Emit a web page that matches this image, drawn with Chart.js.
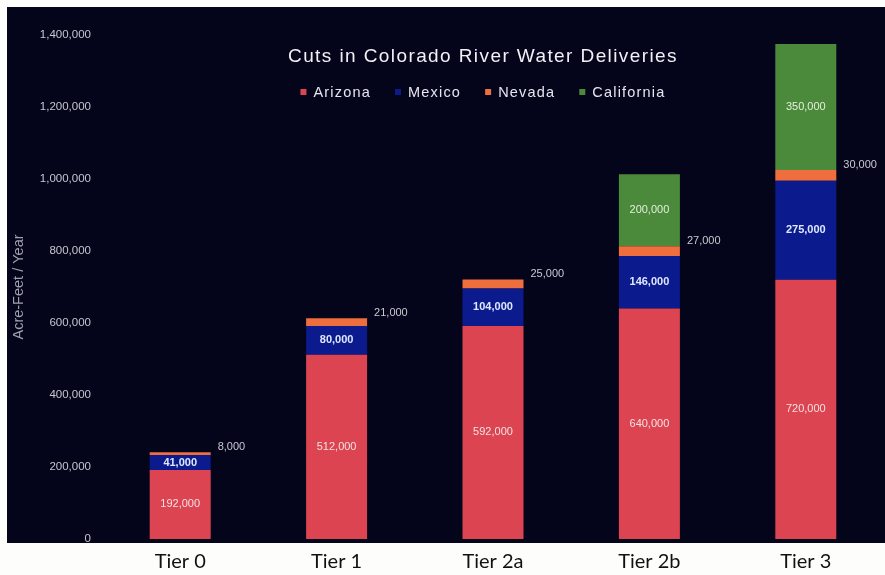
<!DOCTYPE html>
<html>
<head>
<meta charset="utf-8">
<script src="https://cdn.jsdelivr.net/npm/chart.js@4/dist/chart.umd.min.js"></script>
<style>
  html, body { margin: 0; padding: 0; background: #ffffff; }
  #wrap { width: 885px; height: 575px; }
</style>
</head>
<body>
<div id="wrap"><canvas id="waterChart"></canvas></div>
<script>
document.addEventListener('DOMContentLoaded', function() {

    // values (acre-feet / year)
    const tiers = ['Tier 0', 'Tier 1', 'Tier 2a', 'Tier 2b', 'Tier 3'];
    const arizona = [192000, 512000, 592000, 640000, 720000];
    const mexico = [41000, 80000, 104000, 146000, 275000];
    const nevada = [8000, 21000, 25000, 27000, 30000];
    const california = [null, null, null, 200000, 350000];
    const yTicks = [0, 200000, 400000, 600000, 800000, 1000000, 1200000, 1400000];

    const chartTitle = 'Cuts in Colorado River Water Deliveries';

    const fmt = v => v.toLocaleString('en-US');

    // dark panel behind the plot, white strip below for the tier names
    const panelBg = {
        id: 'panelBg',
        beforeDraw(chart) {
            const c = chart.ctx;
            c.save();
            c.fillStyle = '#fdfdfb';
            c.fillRect(0, 0, chart.width, chart.height);
            c.fillStyle = '#04051a';
            c.fillRect(7, 7, chart.width - 7, 536);
            c.restore();
        }
    };

    // title + legend are drawn on top of the plot area, like the original
    const titleLegend = {
        id: 'titleLegend',
        afterDraw(chart) {
            const c = chart.ctx;
            const cx = 483;
            c.save();
            c.textBaseline = 'middle';
            c.fillStyle = '#f0f0f5';
            c.font = '19px "Liberation Sans", Arial, sans-serif';
            c.letterSpacing = '0px';
            const w0 = c.measureText(chartTitle).width;
            const sp = Math.max(0, (390 - w0) / chartTitle.length);
            c.letterSpacing = sp + 'px';
            c.textAlign = 'center';
            c.fillText(chartTitle, cx, 57);

            // legend row
            c.font = '14.5px "Liberation Sans", Arial, sans-serif';
            c.letterSpacing = '1.2px';
            c.textAlign = 'left';
            const items = chart.data.datasets.map(ds => ({ label: ds.label, color: ds.backgroundColor }));
            const box = 6, gapBox = 7, gapItem = 24;
            let total = 0;
            items.forEach((it, i) => {
                it.w = c.measureText(it.label).width;
                total += box + gapBox + it.w + (i < items.length - 1 ? gapItem : 0);
            });
            let x = cx - total / 2;
            const y = 92;
            items.forEach(it => {
                c.fillStyle = it.color;
                c.fillRect(x, y - box / 2, box, box);
                x += box + gapBox;
                c.fillStyle = '#e6e6ee';
                c.fillText(it.label, x, y + 1);
                x += it.w + gapItem;
            });
            c.restore();
        }
    };

    // value labels: inside the bar for the big segments, beside it for Nevada
    const valueLabels = {
        id: 'valueLabels',
        afterDatasetsDraw(chart) {
            const c = chart.ctx;
            c.save();
            c.textBaseline = 'middle';
            chart.data.datasets.forEach((ds, di) => {
                const meta = chart.getDatasetMeta(di);
                meta.data.forEach((bar, i) => {
                    const v = ds.data[i];
                    if (!v) return;
                    const p = bar.getProps(['x', 'y', 'base', 'width'], true);
                    if (ds.outsideLabel) {
                        c.font = '11px "Liberation Sans", Arial, sans-serif';
                        c.fillStyle = '#c9c9d2';
                        c.textAlign = 'left';
                        c.fillText(fmt(v), p.x + p.width / 2 + 7, p.y - 5);
                    } else {
                        c.font = (ds.boldLabel ? 'bold ' : '') + '11px "Liberation Sans", Arial, sans-serif';
                        c.fillStyle = ds.labelColor;
                        c.textAlign = 'center';
                        c.fillText(fmt(v), p.x, (p.y + p.base) / 2);
                    }
                });
            });
            c.restore();
        }
    };

    const ctx = document.getElementById('waterChart').getContext('2d');
    const waterChart = new Chart(ctx, {
        type: 'bar',
        data: {
            labels: tiers,
            datasets: [
                { label: 'Arizona', data: arizona, backgroundColor: '#db4450', labelColor: '#f6e2e2' },
                { label: 'Mexico', data: mexico, backgroundColor: '#0b1b8e', labelColor: '#dfe8ff', boldLabel: true },
                { label: 'Nevada', data: nevada, backgroundColor: '#ee6e3e', outsideLabel: true },
                { label: 'California', data: california, backgroundColor: '#4b8a3b', labelColor: '#e4eedc' }
            ]
        },
        options: {
            responsive: true,
            maintainAspectRatio: false,
            animation: false,
            datasets: {
                bar: { barPercentage: 0.39, categoryPercentage: 1.0, borderWidth: 0 }
            },
            layout: { padding: { top: 35, right: 1, left: 0, bottom: 0 } },
            plugins: {
                legend: { display: false },
                title: { display: false },
                tooltip: { enabled: false }
            },
            scales: {
                x: {
                    stacked: true,
                    grid: { display: false, drawTicks: false },
                    border: { display: false },
                    ticks: {
                        color: '#111111',
                        padding: 11,
                        font: { family: 'Lato, "Open Sans", sans-serif', size: 20 }
                    },
                    afterFit(scale) { scale.height = 36; }
                },
                y: {
                    stacked: true,
                    min: 0,
                    max: 1400000,
                    afterBuildTicks(scale) { scale.ticks = yTicks.map(v => ({ value: v })); },
                    grid: { display: false, drawTicks: false },
                    border: { display: false },
                    ticks: {
                        color: '#c6c6cf',
                        padding: 11,
                        font: { family: '"Liberation Sans", Arial, sans-serif', size: 11.5 },
                        callback: v => fmt(v)
                    },
                    title: {
                        display: true,
                        text: 'Acre-Feet / Year',
                        color: '#a0a0ae',
                        padding: { top: 10, bottom: 0 },
                        font: { family: '"Liberation Sans", Arial, sans-serif', size: 14.5 }
                    },
                    afterFit(scale) { scale.width = 102; }
                }
            }
        },
        plugins: [panelBg, valueLabels, titleLegend]
    });
});
</script>
</body>
</html>
